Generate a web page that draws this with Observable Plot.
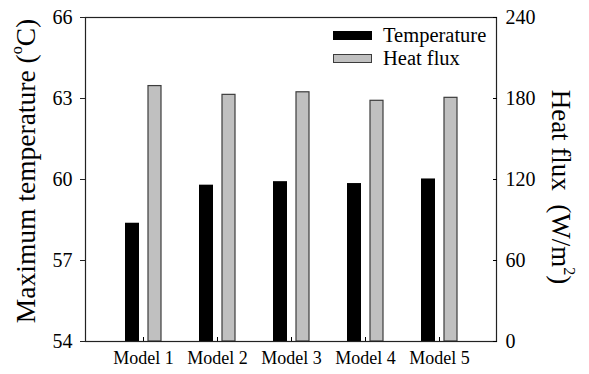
<!DOCTYPE html>
<html><head><meta charset="utf-8">
<script src="https://cdn.jsdelivr.net/npm/d3@7"></script>
<script src="https://cdn.jsdelivr.net/npm/@observablehq/plot@0.6"></script>
<style>
body{margin:0;background:#fff;}
#wrap{position:relative;width:589px;height:374px;font-family:"Liberation Serif","Times New Roman",serif;}
#wrap svg{display:block}
#legend{position:absolute;left:333px;top:24px;font-size:20.5px;line-height:23px;color:#000}
.row{display:flex;align-items:center;height:23px}
.sw{width:39px;height:9px;margin-right:11px;box-sizing:border-box}
</style></head><body><div id="wrap"></div>
<script>
const models = ["Model 1", "Model 2", "Model 3", "Model 4", "Model 5"];
const temperature = [58.38, 59.79, 59.92, 59.85, 60.02];
const heatFlux = [189.2, 182.7, 184.6, 178.3, 180.5];
const tempTicks = [54, 57, 60, 63, 66];
const fluxTicks = [0, 60, 120, 180, 240];
const seriesNames = ["Temperature", "Heat flux"];
const seriesColors = ["#000000", "#c0c0c0"];

// map heat flux onto the temperature axis (dual axis)
const toT = f => tempTicks[0] + (f - fluxTicks[0]) / (fluxTicks[4] - fluxTicks[0]) * (tempTicks[4] - tempTicks[0]);
const data = models.map((m, i) => ({model: m, temp: temperature[i], flux: heatFlux[i]}));

const chart = Plot.plot({
  width: 589, height: 374,
  marginLeft: 85, marginRight: 93, marginTop: 17, marginBottom: 33,
  style: {fontFamily: "'Liberation Serif','Times New Roman',serif", fontSize: "20px", color: "#000", background: "#fff"},
  x: {domain: models, paddingInner: 0, paddingOuter: 0.25, label: null},
  y: {domain: [tempTicks[0], tempTicks[4]], label: null},
  marks: [
    Plot.barY(data, {x: "model", y1: tempTicks[0], y2: "temp", fill: seriesColors[0], insetLeft: 19, insetRight: 41}),
    Plot.barY(data, {x: "model", y1: tempTicks[0], y2: d => toT(d.flux), fill: seriesColors[1], stroke: "#3c3c3c", strokeWidth: 1.2, insetLeft: 42, insetRight: 19}),
    Plot.frame({stroke: "#222", strokeWidth: 1.2}),
    Plot.axisY(tempTicks, {anchor: "left", tickSize: 5, tickPadding: 8, label: null, fontSize: 20, stroke: "#222"}),
    Plot.axisY(fluxTicks.map(toT), {anchor: "right", tickSize: 4, dx: -4, tickPadding: 9, label: null, fontSize: 20,
      tickFormat: t => fluxTicks[fluxTicks.map(toT).indexOf(t)]}),
    Plot.axisX({anchor: "bottom", tickSize: 4, dy: -4, tickPadding: 10, label: null, fontSize: 18})
  ]
});
document.getElementById("wrap").appendChild(chart);

const svg = d3.select(chart);
const ser = "'Liberation Serif','Times New Roman',serif";
const lt = svg.append("text")
  .attr("transform", "translate(25,171) rotate(-90)")
  .attr("text-anchor", "middle").attr("dominant-baseline", "central")
  .style("font-family", ser).style("font-size", "27.5px").attr("fill", "#000");
lt.append("tspan").text("Maximum temperature (");
lt.append("tspan").attr("baseline-shift", "super").style("font-size", "16px").text("o");
lt.append("tspan").text("C)");

const rt = svg.append("text")
  .attr("transform", "translate(561,187) rotate(90)")
  .attr("text-anchor", "middle").attr("dominant-baseline", "central")
  .style("font-family", ser).style("font-size", "27px").attr("fill", "#000");
rt.append("tspan").text("Heat flux  (W/m");
rt.append("tspan").attr("baseline-shift", "super").style("font-size", "16px").text("2");
rt.append("tspan").text(")");

const legend = d3.select("#wrap").append("div").attr("id", "legend");
seriesNames.forEach((name, i) => {
  const row = legend.append("div").attr("class", "row");
  row.append("div").attr("class", "sw")
    .style("background", seriesColors[i])
    .style("border", i === 1 ? "1.2px solid #3c3c3c" : "none");
  row.append("span").text(name);
});
</script></body></html>
